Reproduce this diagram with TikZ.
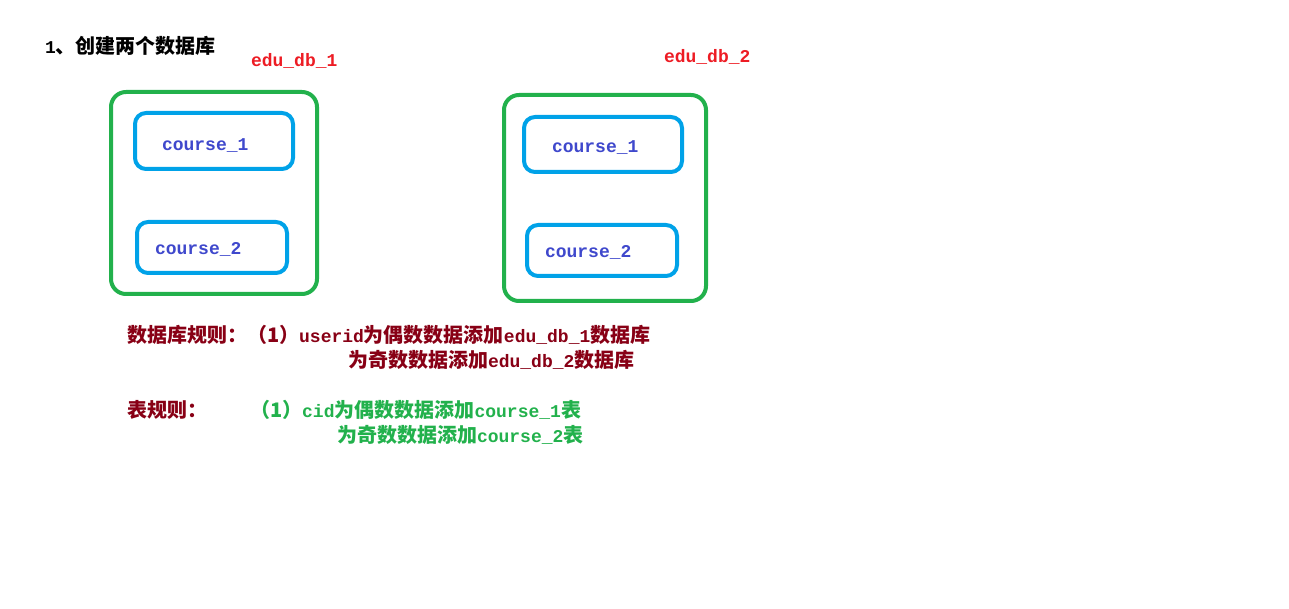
\documentclass[tikz,border=0pt]{standalone}
\usepackage{fontspec}
\setmainfont{Liberation Mono}
\newfontfamily\cjk{Noto Sans CJK SC}
\usepackage{xcolor}
\usetikzlibrary{positioning}

\definecolor{dbgreen}{HTML}{22B14C}
\definecolor{tblblue}{HTML}{00A2E8}
\definecolor{tbltxt}{HTML}{3F48CC}
\definecolor{dbred}{HTML}{ED1C24}
\definecolor{rulered}{HTML}{880015}

% chinese runs inside the latin text
\newcommand{\zh}[1]{{\cjk\fontsize{20}{24}\selectfont #1}}

\begin{document}
\begin{tikzpicture}[x=1pt,y=-1pt,
	every node/.style={inner sep=0pt,outer sep=0pt,
		font=\fontsize{18}{22}\selectfont\bfseries},
	dbbox/.style={draw=dbgreen,line width=4pt,rounded corners=15pt},
	tblbox/.style={draw=tblblue,line width=4pt,rounded corners=11pt},
	tbltext/.style={text=tbltxt,anchor=base west},
	dbname/.style={text=dbred,anchor=base west},
	ruletext/.style={text=rulered,anchor=base west},
	ruleok/.style={text=dbgreen,anchor=base west}]
	
	\useasboundingbox (0,0) rectangle (1289,609);
	
	\node[anchor=base west] (title) at (45,54) {1\zh{、创建两个数据库}};
	
	% the two databases
	\node[dbbox,minimum width=206pt,minimum height=202pt] (db1) at (214,193) {};
	\node[dbbox,minimum width=202pt,minimum height=206pt] (db2) at (605,198) {};
	
	\node[dbname] (db1name) at (251,67) {edu\_db\_1};
	\node[dbname] (db2name) at (664,63) {edu\_db\_2};
	
	% tables in each database
	\foreach \n/\x/\y/\w/\h in
	{
		t1a/214/141/158/56,
		t1b/212/247.5/150/51,
		t2a/603/144.5/158/55,
		t2b/602/250.5/150/51
	}
	{
		\node[tblbox,minimum width=\w pt,minimum height=\h pt]
		(\n) at (\x,\y) {};
	}
	
	\node[tbltext] (t1atxt) at (162,151) {course\_1};
	\node[tbltext] (t1btxt) at (155,255) {course\_2};
	\node[tbltext] (t2atxt) at (552,153) {course\_1};
	\node[tbltext] (t2btxt) at (545,258) {course\_2};
	
	% rules
	\node[ruletext] (dbrule1) at (127,342)
	{\zh{数据库规则：（1）}userid\zh{为偶数数据添加}edu\_db\_1\zh{数据库}};
	\node[ruletext] (dbrule2) at (348,367)
	{\zh{为奇数数据添加}edu\_db\_2\zh{数据库}};
	
	\node[ruletext] (tblrule) at (127,417) {\zh{表规则：}};
	\node[ruleok] (tblrule1) at (250,417)
	{\zh{（1）}cid\zh{为偶数数据添加}course\_1\zh{表}};
	\node[ruleok] (tblrule2) at (337,442)
	{\zh{为奇数数据添加}course\_2\zh{表}};
	
\end{tikzpicture}
\end{document}
